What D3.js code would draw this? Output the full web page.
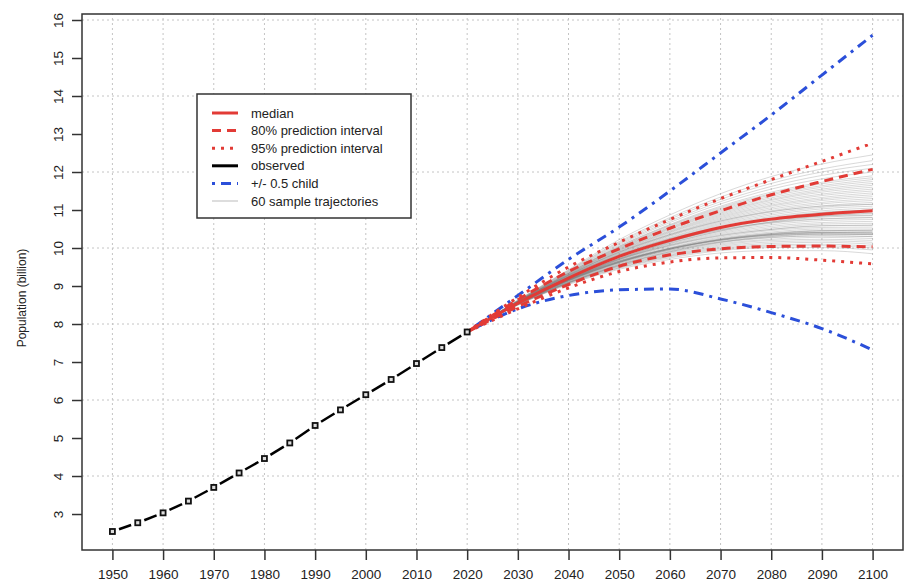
<!DOCTYPE html>
<html>
<head>
<meta charset="utf-8">
<script src="https://cdn.jsdelivr.net/npm/d3@7"></script>
<style>
  body { margin: 0; background: #fff; }
  svg text { font-family: "Liberation Sans", Arial, sans-serif; fill: #222; }
</style>
</head>
<body>
<div id="chart"></div>
<script>
// observed population (billion), 5-year steps
const OBS_YEARS = [1950, 1955, 1960, 1965, 1970, 1975, 1980, 1985, 1990, 1995, 2000, 2005, 2010, 2015, 2020]
const OBS_VALUES = [2.54, 2.77, 3.03, 3.34, 3.70, 4.08, 4.46, 4.87, 5.33, 5.74, 6.14, 6.54, 6.96, 7.38, 7.79]

// projections, 10-year steps
const PROJ_YEARS = [2020, 2030, 2040, 2050, 2060, 2070, 2080, 2090, 2100]
const MEDIAN = [7.79, 8.55, 9.21, 9.78, 10.20, 10.54, 10.76, 10.89, 10.98]
const PI80_LOW = [7.79, 8.46, 9.04, 9.52, 9.82, 9.98, 10.04, 10.05, 10.03]
const PI80_HIGH = [7.79, 8.64, 9.38, 9.98, 10.52, 10.98, 11.40, 11.75, 12.07]
const PI95_LOW = [7.79, 8.40, 8.95, 9.38, 9.63, 9.74, 9.75, 9.68, 9.58]
const PI95_HIGH = [7.79, 8.70, 9.50, 10.15, 10.75, 11.30, 11.80, 12.28, 12.76]
const HALF_CHILD_HIGH = [7.79, 8.75, 9.70, 10.55, 11.50, 12.50, 13.50, 14.55, 15.60]
const HALF_CHILD_LOW = [7.79, 8.40, 8.75, 8.90, 8.92, 8.66, 8.30, 7.88, 7.32]

// 60 sample trajectories, values for 2030..2100 (2020 = 7.79)
const TRAJECTORIES = [
  [8.50, 9.04, 9.44, 9.70, 9.87, 9.93, 9.93, 9.85],
  [8.50, 9.06, 9.47, 9.74, 9.93, 10.01, 10.01, 9.95],
  [8.51, 9.07, 9.48, 9.77, 9.96, 10.05, 10.06, 10.00],
  [8.52, 9.09, 9.50, 9.79, 9.99, 10.08, 10.10, 10.05],
  [8.51, 9.08, 9.52, 9.81, 10.02, 10.12, 10.15, 10.10],
  [8.52, 9.09, 9.53, 9.83, 10.05, 10.16, 10.19, 10.15],
  [8.53, 9.10, 9.54, 9.86, 10.08, 10.20, 10.23, 10.20],
  [8.52, 9.10, 9.56, 9.88, 10.11, 10.23, 10.28, 10.25],
  [8.52, 9.11, 9.57, 9.90, 10.14, 10.27, 10.32, 10.30],
  [8.56, 9.15, 9.62, 9.94, 10.16, 10.28, 10.32, 10.30],
  [8.53, 9.12, 9.59, 9.92, 10.17, 10.31, 10.37, 10.35],
  [8.50, 9.08, 9.55, 9.90, 10.15, 10.30, 10.36, 10.35],
  [8.53, 9.13, 9.60, 9.95, 10.20, 10.35, 10.41, 10.40],
  [8.57, 9.18, 9.65, 9.98, 10.22, 10.36, 10.41, 10.40],
  [8.53, 9.13, 9.62, 9.97, 10.23, 10.38, 10.45, 10.45],
  [8.54, 9.15, 9.63, 9.99, 10.24, 10.39, 10.46, 10.45],
  [8.53, 9.14, 9.63, 10.00, 10.26, 10.42, 10.50, 10.50],
  [8.54, 9.15, 9.65, 10.01, 10.29, 10.46, 10.54, 10.55],
  [8.53, 9.15, 9.66, 10.04, 10.32, 10.49, 10.59, 10.60],
  [8.58, 9.21, 9.71, 10.07, 10.33, 10.49, 10.58, 10.60],
  [8.54, 9.16, 9.68, 10.06, 10.35, 10.53, 10.63, 10.65],
  [8.54, 9.17, 9.69, 10.08, 10.38, 10.57, 10.67, 10.70],
  [8.54, 9.18, 9.70, 10.10, 10.41, 10.61, 10.72, 10.75],
  [8.55, 9.19, 9.72, 10.13, 10.44, 10.65, 10.76, 10.80],
  [8.55, 9.19, 9.73, 10.15, 10.47, 10.68, 10.81, 10.85],
  [8.55, 9.20, 9.75, 10.17, 10.50, 10.72, 10.85, 10.90],
  [8.55, 9.21, 9.77, 10.19, 10.53, 10.76, 10.89, 10.95],
  [8.56, 9.22, 9.78, 10.22, 10.56, 10.80, 10.94, 11.00],
  [8.52, 9.17, 9.72, 10.16, 10.52, 10.77, 10.93, 11.00],
  [8.56, 9.22, 9.80, 10.24, 10.59, 10.83, 10.98, 11.05],
  [8.56, 9.23, 9.81, 10.26, 10.62, 10.87, 11.03, 11.10],
  [8.56, 9.24, 9.83, 10.28, 10.65, 10.91, 11.07, 11.15],
  [8.57, 9.25, 9.84, 10.31, 10.68, 10.95, 11.11, 11.20],
  [8.57, 9.25, 9.86, 10.33, 10.71, 10.98, 11.16, 11.25],
  [8.57, 9.26, 9.87, 10.35, 10.74, 11.02, 11.20, 11.30],
  [8.57, 9.27, 9.89, 10.37, 10.77, 11.06, 11.25, 11.35],
  [8.58, 9.28, 9.90, 10.40, 10.80, 11.10, 11.29, 11.40],
  [8.58, 9.28, 9.92, 10.42, 10.83, 11.13, 11.33, 11.45],
  [8.58, 9.29, 9.93, 10.44, 10.86, 11.17, 11.38, 11.50],
  [8.58, 9.30, 9.95, 10.46, 10.89, 11.21, 11.42, 11.55],
  [8.59, 9.31, 9.96, 10.49, 10.92, 11.25, 11.47, 11.60],
  [8.59, 9.31, 9.98, 10.51, 10.95, 11.28, 11.51, 11.65],
  [8.59, 9.32, 9.99, 10.53, 10.98, 11.32, 11.55, 11.70],
  [8.59, 9.33, 10.01, 10.55, 11.01, 11.36, 11.60, 11.75],
  [8.60, 9.34, 10.02, 10.58, 11.04, 11.40, 11.64, 11.80],
  [8.60, 9.34, 10.04, 10.60, 11.07, 11.43, 11.69, 11.85],
  [8.60, 9.35, 10.05, 10.62, 11.10, 11.47, 11.73, 11.90],
  [8.61, 9.37, 10.08, 10.67, 11.16, 11.55, 11.82, 12.00],
  [8.61, 9.38, 10.11, 10.71, 11.22, 11.62, 11.91, 12.10],
  [8.62, 9.40, 10.14, 10.76, 11.28, 11.70, 12.00, 12.20],
  [8.62, 9.41, 10.17, 10.80, 11.34, 11.77, 12.08, 12.30],
  [8.63, 9.43, 10.22, 10.87, 11.43, 11.88, 12.21, 12.45],
  [8.58, 9.19, 9.66, 9.99, 10.22, 10.35, 10.41, 10.42],
  [8.56, 9.17, 9.64, 9.98, 10.21, 10.34, 10.39, 10.38],
  [8.55, 9.16, 9.63, 9.97, 10.20, 10.33, 10.37, 10.36],
  [8.60, 9.27, 9.82, 10.24, 10.55, 10.74, 10.84, 10.86],
  [8.53, 9.16, 9.70, 10.12, 10.45, 10.69, 10.84, 10.92],
  [8.59, 9.29, 9.89, 10.35, 10.71, 10.96, 11.10, 11.15],
  [8.54, 9.14, 9.62, 9.97, 10.22, 10.37, 10.45, 10.47],
  [8.57, 9.24, 9.78, 10.18, 10.48, 10.67, 10.77, 10.80],
]

const X_TICKS = d3.range(1950, 2101, 10)
const Y_TICKS = d3.range(3, 17, 1)
const Y_GRID = [4, 6, 8, 10, 12, 14, 16]

const LEGEND_ITEMS = [
  { label: "median", color: "#e23b36", dash: null, width: 3 },
  { label: "80% prediction interval", color: "#e23b36", dash: "9,6", width: 3 },
  { label: "95% prediction interval", color: "#e23b36", dash: "3,6", width: 3 },
  { label: "observed", color: "#000", dash: null, width: 3 },
  { label: "+/- 0.5 child", color: "#2b4fd9", dash: "3,6,10,6", width: 3 },
  { label: "60 sample trajectories", color: "#bbb", dash: null, width: 1 },
]

const WIDTH = 907
const HEIGHT = 585

const svg = d3
  .select("#chart")
  .append("svg")
  .attr("width", WIDTH)
  .attr("height", HEIGHT)

const x = d3.scaleLinear().domain([1944, 2106]).range([82, 903])
const y = d3.scaleLinear().domain([2.053, 16.158]).range([550, 14])

/*
 * ------------------------------------------------
 * Grid
 * ------------------------------------------------
 */
const grid = svg.append("g").attr("stroke", "#c4c4c4").attr("stroke-dasharray", "2,3")

grid
  .selectAll("line.v")
  .data(X_TICKS)
  .enter()
  .append("line")
  .attr("x1", (d) => x(d))
  .attr("x2", (d) => x(d))
  .attr("y1", y.range()[0])
  .attr("y2", y.range()[1])

grid
  .selectAll("line.h")
  .data(Y_GRID)
  .enter()
  .append("line")
  .attr("x1", x.range()[0])
  .attr("x2", x.range()[1])
  .attr("y1", (d) => y(d))
  .attr("y2", (d) => y(d))

/*
 * ------------------------------------------------
 * Trajectories
 * ------------------------------------------------
 */
const line = d3
  .line()
  .x((d) => x(d[0]))
  .y((d) => y(d[1]))
  .curve(d3.curveMonotoneX)

svg
  .append("g")
  .selectAll("path")
  .data(TRAJECTORIES)
  .enter()
  .append("path")
  .attr("d", (t) => line(PROJ_YEARS.map((yr, i) => [yr, i === 0 ? OBS_VALUES[OBS_VALUES.length - 1] : t[i - 1]])))
  .attr("fill", "none")
  .attr("stroke", "rgba(120,120,120,0.28)")
  .attr("stroke-width", 1)

const series = (values) => PROJ_YEARS.map((yr, i) => [yr, values[i]])

const drawSeries = (values, item) =>
  svg
    .append("path")
    .attr("d", line(series(values)))
    .attr("fill", "none")
    .attr("stroke", item.color)
    .attr("stroke-width", item.width)
    .attr("stroke-dasharray", item.dash)

drawSeries(HALF_CHILD_HIGH, LEGEND_ITEMS[4])
drawSeries(HALF_CHILD_LOW, LEGEND_ITEMS[4])
drawSeries(PI95_LOW, LEGEND_ITEMS[2])
drawSeries(PI95_HIGH, LEGEND_ITEMS[2])
drawSeries(PI80_LOW, LEGEND_ITEMS[1])
drawSeries(PI80_HIGH, LEGEND_ITEMS[1])
drawSeries(MEDIAN, LEGEND_ITEMS[0])

/*
 * ------------------------------------------------
 * Observed (type "b": points with broken line)
 * ------------------------------------------------
 */
const obs = OBS_YEARS.map((yr, i) => [x(yr), y(OBS_VALUES[i])])
const GAP = 7
const obsGroup = svg.append("g")

obsGroup
  .selectAll("line")
  .data(d3.pairs(obs))
  .enter()
  .append("line")
  .each(function ([a, b]) {
    const len = Math.hypot(b[0] - a[0], b[1] - a[1])
    const ux = (b[0] - a[0]) / len
    const uy = (b[1] - a[1]) / len
    d3.select(this)
      .attr("x1", a[0] + ux * GAP)
      .attr("y1", a[1] + uy * GAP)
      .attr("x2", b[0] - ux * GAP)
      .attr("y2", b[1] - uy * GAP)
  })
  .attr("stroke", "#000")
  .attr("stroke-width", 2.5)

obsGroup
  .selectAll("rect")
  .data(obs)
  .enter()
  .append("rect")
  .attr("x", (d) => d[0] - 2.5)
  .attr("y", (d) => d[1] - 2.5)
  .attr("width", 5)
  .attr("height", 5)
  .attr("fill", "#ddd")
  .attr("stroke", "#111")
  .attr("stroke-width", 1.8)

/*
 * ------------------------------------------------
 * Box and axes
 * ------------------------------------------------
 */
svg
  .append("rect")
  .attr("x", x.range()[0])
  .attr("y", y.range()[1])
  .attr("width", x.range()[1] - x.range()[0])
  .attr("height", y.range()[0] - y.range()[1])
  .attr("fill", "none")
  .attr("stroke", "#333")
  .attr("stroke-width", 1.5)

const xAxis = svg
  .append("g")
  .attr("transform", `translate(0,${y.range()[0]})`)
  .call(d3.axisBottom(x).tickValues(X_TICKS).tickSize(10).tickPadding(9).tickFormat(d3.format("d")))

xAxis.select(".domain").remove()
xAxis.selectAll("line").attr("stroke", "#333").attr("stroke-width", 1.5)
xAxis.selectAll("text").attr("font-size", 13.5).attr("fill", "#222").attr("font-family", null)

const yAxis = svg
  .append("g")
  .attr("transform", `translate(${x.range()[0]},0)`)
  .call(d3.axisLeft(y).tickValues(Y_TICKS).tickSize(10))

yAxis.select(".domain").remove()
yAxis.selectAll("line").attr("stroke", "#333").attr("stroke-width", 1.5)
yAxis
  .selectAll("text")
  .attr("font-size", 13.5)
  .attr("fill", "#222")
  .attr("font-family", null)
  .attr("x", null)
  .attr("dy", null)
  .attr("text-anchor", "middle")
  .attr("transform", "translate(-19,0) rotate(-90)")

svg
  .append("text")
  .attr("transform", `translate(26,${(y.range()[0] + y.range()[1]) / 2 + 16}) rotate(-90)`)
  .attr("text-anchor", "middle")
  .attr("font-size", 12)
  .text("Population (billion)")

/*
 * ------------------------------------------------
 * Legend
 * ------------------------------------------------
 */
const legend = svg.append("g").attr("transform", "translate(197,94)")

legend
  .append("rect")
  .attr("width", 214)
  .attr("height", 124)
  .attr("fill", "#fff")
  .attr("stroke", "#333")
  .attr("stroke-width", 1.5)

const rows = legend
  .selectAll("g.row")
  .data(LEGEND_ITEMS)
  .enter()
  .append("g")
  .attr("transform", (d, i) => `translate(0,${19 + i * 17.6})`)

rows
  .append("line")
  .attr("x1", 15)
  .attr("x2", 41)
  .attr("stroke", (d) => d.color)
  .attr("stroke-width", (d) => d.width)
  .attr("stroke-dasharray", (d) => d.dash)

rows
  .append("text")
  .attr("x", 54)
  .attr("dy", "0.35em")
  .attr("font-size", 13)
  .text((d) => d.label)
</script>
</body>
</html>
